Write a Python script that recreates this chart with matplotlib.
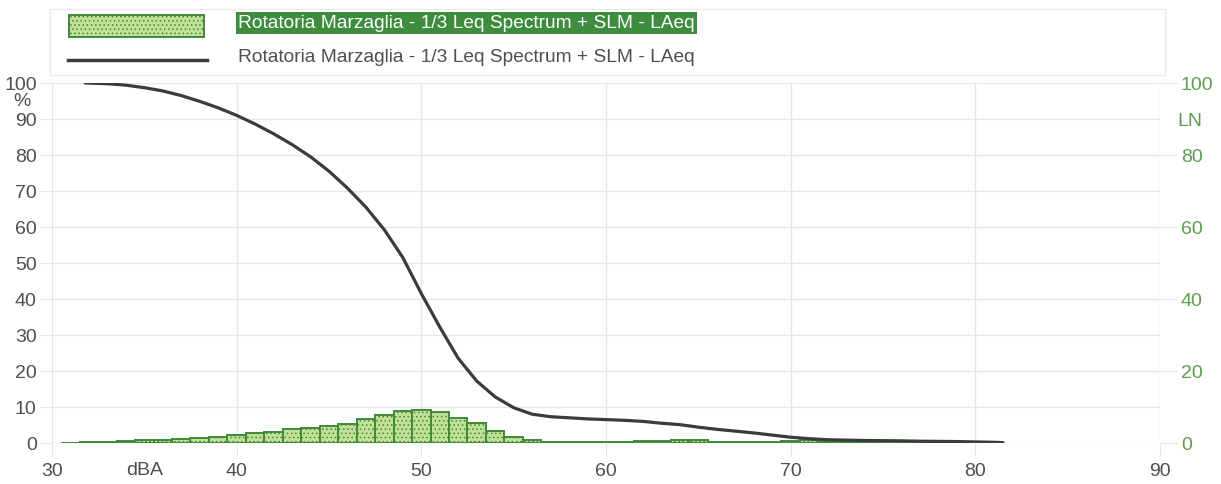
import matplotlib
matplotlib.use("Agg")
import matplotlib.pyplot as plt
from matplotlib.patches import Rectangle
from matplotlib.lines import Line2D

# ---- data ----
bin_centers = [31, 32, 33, 34, 35, 36, 37, 38, 39, 40, 41, 42, 43, 44, 45, 46, 47, 48, 49, 50,
               51, 52, 53, 54, 55, 56, 57, 58, 59, 60, 61, 62, 63, 64, 65, 66, 67, 68, 69, 70,
               71, 72, 73, 74, 75, 76, 77, 78, 79, 80, 81]
bin_values = [0.1, 0.2, 0.3, 0.5, 0.8, 0.9, 1.1, 1.4, 1.8, 2.2, 2.7, 3.1, 3.8, 4.2, 4.6, 5.4, 6.6, 7.9, 9.0, 9.2,
              8.5, 6.9, 5.5, 3.4, 1.6, 0.9, 0.3, 0.2, 0.2, 0.2, 0.2, 0.5, 0.5, 0.7, 0.9, 0.4, 0.35, 0.35, 0.4, 0.6,
              0.8, 0.3, 0.2, 0.2, 0.15, 0.15, 0.1, 0.1, 0.1, 0.1, 0.05]

ln_x = [31.8, 33, 34, 35, 36, 37, 38, 39, 40, 41, 42, 43, 44, 45, 46, 47, 48, 49, 50, 51,
        52, 53, 54, 55, 56, 57, 58, 59, 60, 61, 62, 63, 64, 65, 66, 67, 68, 69, 70, 71,
        72, 73, 74, 75, 76, 77, 78, 79, 80, 81, 81.5]
ln_y = [100, 99.8, 99.4, 98.7, 97.8, 96.5, 94.9, 93.1, 91.0, 88.6, 85.9, 82.9, 79.5, 75.5, 70.8, 65.5, 59.2, 51.5, 41.5, 32.2,
        23.5, 17.2, 12.8, 9.8, 8.0, 7.3, 7.0, 6.7, 6.5, 6.3, 6.0, 5.5, 5.1, 4.4, 3.8, 3.3, 2.8, 2.2, 1.6, 1.2,
        0.9, 0.8, 0.7, 0.65, 0.6, 0.5, 0.45, 0.4, 0.3, 0.2, 0.1]

x_ticks = [30, 40, 50, 60, 70, 80, 90]
left_ticks = [0, 10, 20, 30, 40, 50, 60, 70, 80, 90, 100]
right_ticks = [0, 20, 40, 60, 80, 100]
series_name = "Rotatoria Marzaglia - 1/3 Leq Spectrum + SLM - LAeq"

# ---- style ----
FONT = "Liberation Sans"
plt.rcParams["font.family"] = [FONT, "DejaVu Sans"]
plt.rcParams["hatch.linewidth"] = 0.6
plt.rcParams["hatch.color"] = "#8fbf6a"
GRID = "#e6e6e6"
TXT = "#4f4f4f"
GREEN_TXT = "#5e9e50"
BAR_FACE = "#c2df98"
BAR_EDGE = "#3f8a3a"
LINE = "#3b3b3b"

W, H = 1221, 485
fig = plt.figure(figsize=(W / 100, H / 100), dpi=100)
fig.patch.set_facecolor("white")

l, r, b, t = 52 / W, 1160 / W, 1 - 444 / H, 1 - 84 / H
ax = fig.add_axes([l, b, r - l, t - b])
ax.set_xlim(30, 90)
ax.set_ylim(0, 100)
for s in ax.spines.values():
    s.set_visible(False)
ax.set_xticks(x_ticks)
ax.set_yticks(left_ticks)
ax.grid(True, color=GRID, linewidth=1.0)
ax.set_axisbelow(True)
ax.tick_params(axis="x", length=9, color=GRID, labelsize=14, labelcolor=TXT, pad=5)
ax.tick_params(axis="y", length=9, color=GRID, labelsize=14, labelcolor=TXT, pad=2)

ax.bar(bin_centers, bin_values, width=1.0, color=BAR_FACE, edgecolor=BAR_EDGE,
       linewidth=1.4, hatch="....", zorder=2)
ax.plot(ln_x, ln_y, color=LINE, linewidth=2.3, zorder=3, solid_capstyle="round")

ax2 = ax.twinx()
ax2.set_ylim(0, 100)
ax2.set_yticks(right_ticks)
for s in ax2.spines.values():
    s.set_visible(False)
ax2.tick_params(axis="y", length=12, color=GRID, labelsize=14, labelcolor=GREEN_TXT, pad=3)

# axis unit labels
fig.text(22 / W, 1 - 102 / H, "%", fontsize=14, color=TXT, ha="center", va="center")
fig.text(1190 / W, 1 - 121 / H, "LN", fontsize=14, color=GREEN_TXT, ha="center", va="center")
fig.text(145 / W, 1 - 471 / H, "dBA", fontsize=14, color=TXT, ha="center", va="center")

# legend box
fig.patches.append(Rectangle((50 / W, 1 - 76 / H), (1165 - 50) / W, (76 - 10) / H,
                             transform=fig.transFigure, facecolor="white",
                             edgecolor="#ececec", linewidth=1.0, zorder=0))
fig.patches.append(Rectangle((69 / W, 1 - 38 / H), (204 - 69) / W, (38 - 16) / H,
                             transform=fig.transFigure, facecolor=BAR_FACE,
                             edgecolor=BAR_EDGE, linewidth=1.4, hatch="....", zorder=2))
fig.lines.append(Line2D([68 / W, 207 / W], [1 - 61 / H, 1 - 61 / H], transform=fig.transFigure,
                        color=LINE, linewidth=2.5, zorder=2))
fig.text(238 / W, 1 - 24 / H, series_name, fontsize=13.8, color="white", ha="left", va="center",
         bbox=dict(boxstyle="square,pad=0.12", facecolor="#3e8c3e", edgecolor="none"))
fig.text(238 / W, 1 - 58 / H, series_name, fontsize=13.8, color=TXT, ha="left", va="center")

fig.savefig("out.png", dpi=100, facecolor="white")
